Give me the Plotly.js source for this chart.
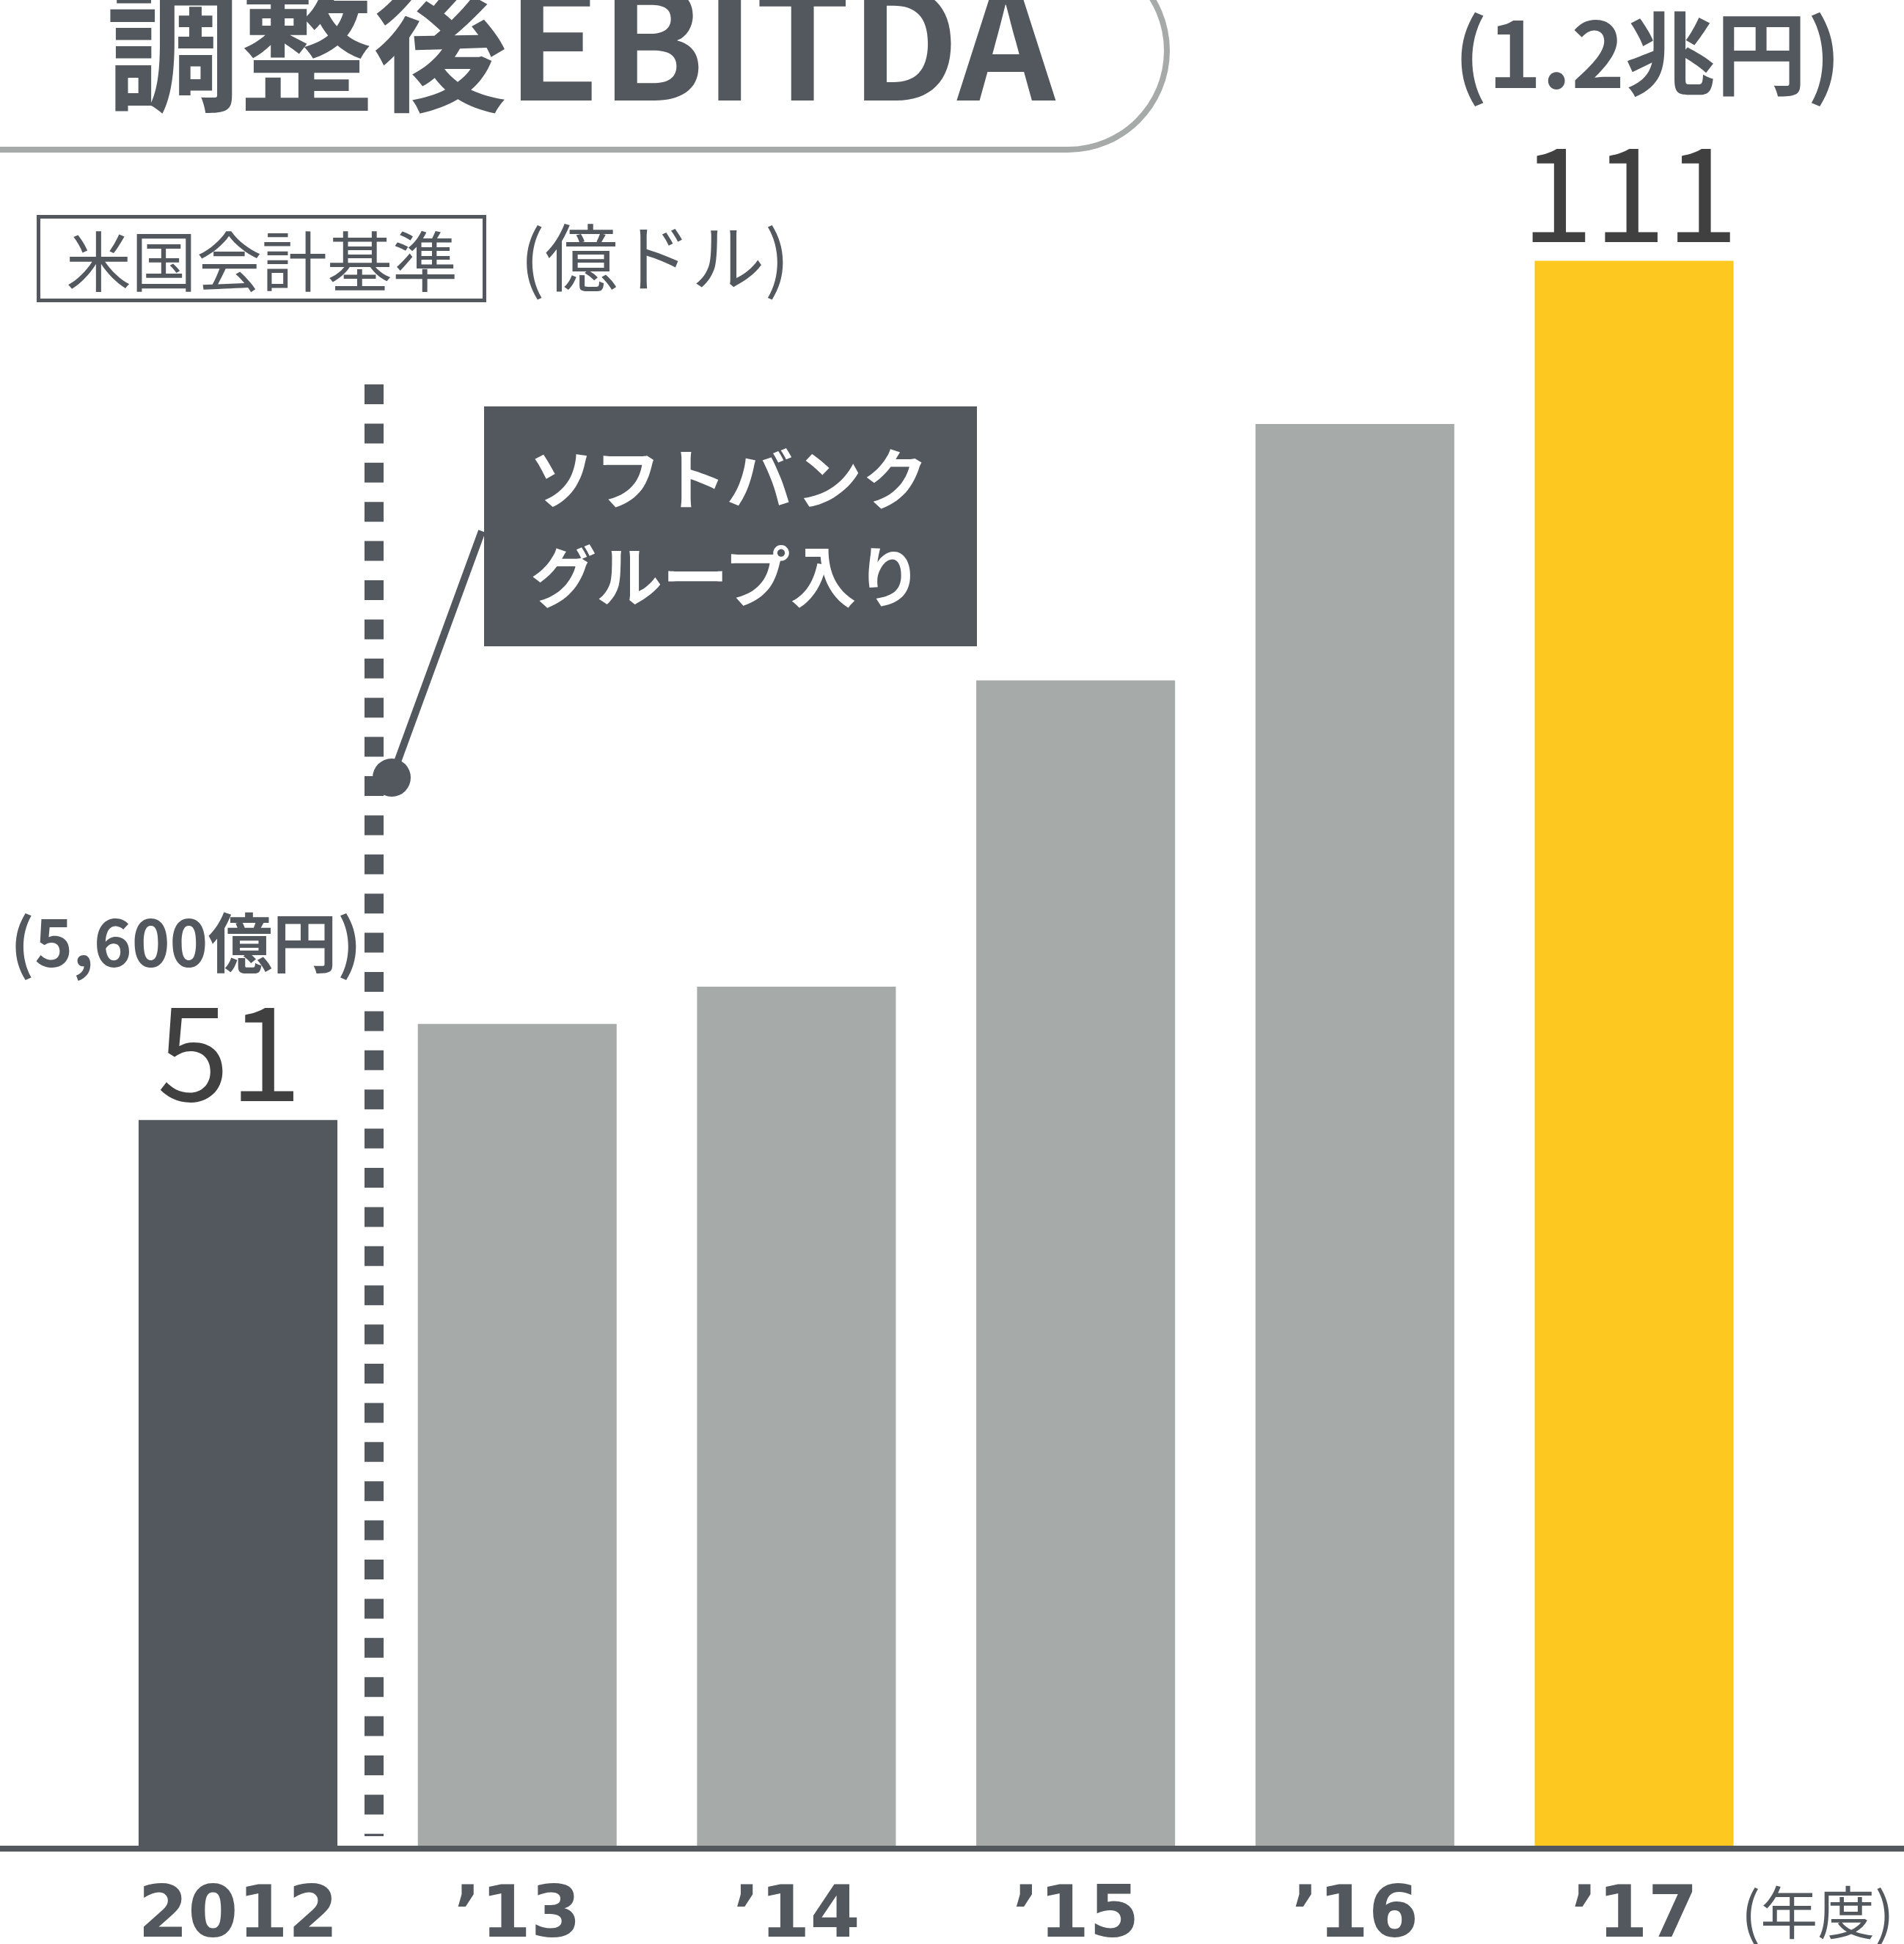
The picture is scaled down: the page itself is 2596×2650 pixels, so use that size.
<!DOCTYPE html>
<html>
<head>
<meta charset="utf-8">
<script src="https://cdn.plot.ly/plotly-3.0.1.min.js"></script>
<style>
  html, body { margin: 0; padding: 0; background: #ffffff; }
  #chart { width: 2596px; height: 2650px; }
</style>
</head>
<body>
<div id="chart"></div>
<script>
// ---- data ----
const categories = ["2012", "2013", "2014", "2015", "2016", "2017"];
const tickLabels = ["2012", "’13", "’14", "’15", "’16", "’17"];
const ebitda = [51, 57.7, 60.3, 81.7, 99.6, 111];           // 億ドル
const barColors = ["#53585f", "#a6aaa9", "#a6aaa9", "#a6aaa9", "#a6aaa9", "#fdc81f"];
const yenNotes = ["(5,600億円)", "(1.2兆円)"];
const titleKanji = "調整後";
const titleLatin = "EBITDA";
const standardText = "米国会計基準";
const unitText = "(億ドル)";
const calloutLines = ["ソフトバンク", "グループ入り"];
const fiscalYearText = "(年度)";

// ---- geometry helpers (pixel -> paper) ----
const W = 2596, H = 2650, MB = 128, PH = H - MB;
const xp = px => px / W;
const yp = py => (PH - py) / PH;
const DARK = "#53585f", GREY = "#a6aaa9", FONT = "Noto Sans CJK JP";

const trace = {
  type: "bar",
  x: categories.map((c, i) => i),
  y: ebitda,
  width: 0.712,
  marker: { color: barColors, line: { width: 0 } },
  hoverinfo: "skip"
};

function pathStr(parts) {
  let s = "";
  for (const p of parts) {
    if (typeof p === "string") s += p;
    else s += p[0].toFixed(6) + "," + p[1].toFixed(6) + " ";
  }
  return s.trim();
}
// rounded tab under title
const cx = 1456, cy = 69, r = 135, k = 0.5523 * r;
const tab = pathStr([
  "M", [xp(-20), yp(cy + r)],
  "L", [xp(cx), yp(cy + r)],
  "C", [xp(cx + k), yp(cy + r)], [xp(cx + r), yp(cy + k)], [xp(cx + r), yp(cy)],
  "C", [xp(cx + r), yp(cy - k)], [xp(cx + k), yp(cy - r)], [xp(cx), yp(cy - r)]
]);

const shapes = [
  { type: "path", xref: "paper", yref: "paper", path: tab,
    line: { color: GREY, width: 8 }, fillcolor: "rgba(0,0,0,0)" },
  { type: "rect", xref: "paper", yref: "paper",
    x0: xp(52.5), x1: xp(660.5), y0: yp(295.5), y1: yp(409.5),
    line: { color: DARK, width: 5 }, fillcolor: "rgba(0,0,0,0)" },
  { type: "rect", xref: "paper", yref: "paper",
    x0: xp(660), x1: xp(1332), y0: yp(554), y1: yp(881),
    line: { width: 0 }, fillcolor: DARK },
  { type: "line", xref: "paper", yref: "paper",
    x0: xp(657), y0: yp(724), x1: xp(534), y1: yp(1060),
    line: { color: DARK, width: 10 } },
  { type: "circle", xref: "paper", yref: "paper",
    x0: xp(508), x1: xp(560), y0: yp(1034), y1: yp(1086),
    line: { width: 0 }, fillcolor: DARK },
  { type: "line", xref: "paper", yref: "paper",
    x0: xp(510), x1: xp(510), y0: yp(524), y1: yp(2503),
    line: { color: DARK, width: 26, dash: "27px,26.4px" } },
  { type: "line", xref: "paper", yref: "paper",
    x0: 0, x1: 1, y0: yp(2520), y1: yp(2520),
    line: { color: DARK, width: 8 } }
];

const annotations = [
  { xref: "paper", yref: "paper", x: xp(793), y: yp(46), xanchor: "center", yanchor: "middle",
    text: '<span style="font-size:182px">' + titleKanji + '</span>' + titleLatin, showarrow: false,
    font: { family: FONT, size: 208, color: DARK, weight: 700 } },
  { xref: "paper", yref: "paper", x: xp(357), y: yp(352), xanchor: "center", yanchor: "middle",
    text: standardText, showarrow: false,
    font: { family: FONT, size: 89, color: DARK, weight: 400 } },
  { xref: "paper", yref: "paper", x: xp(893), y: yp(346), xanchor: "center", yanchor: "middle",
    text: unitText, showarrow: false,
    font: { family: FONT, size: 100, color: DARK, weight: 400 } },
  { xref: "paper", yref: "paper", x: xp(993), y: yp(648), xanchor: "center", yanchor: "middle",
    text: calloutLines[0], showarrow: false,
    font: { family: FONT, size: 90, color: "#ffffff", weight: 700 } },
  { xref: "paper", yref: "paper", x: xp(990), y: yp(781), xanchor: "center", yanchor: "middle",
    text: calloutLines[1], showarrow: false,
    font: { family: FONT, size: 90, color: "#ffffff", weight: 700 } },
  { xref: "paper", yref: "paper", x: xp(253), y: yp(1279), xanchor: "center", yanchor: "middle",
    text: yenNotes[0], showarrow: false,
    font: { family: FONT, size: 88, color: DARK, weight: 700 } },
  { xref: "paper", yref: "paper", x: xp(2246), y: yp(66), xanchor: "center", yanchor: "middle",
    text: yenNotes[1], showarrow: false,
    font: { family: FONT, size: 124, color: DARK, weight: 700 } },
  { xref: "x", yref: "y", x: 0, y: ebitda[0], xanchor: "center", yanchor: "bottom",
    xshift: -12, yshift: -27, text: String(ebitda[0]), showarrow: false,
    font: { family: FONT, size: 178, color: "#404040", weight: 400 } },
  { xref: "x", yref: "y", x: 5, y: ebitda[5], xanchor: "center", yanchor: "bottom",
    xshift: -6, yshift: -27, text: String(ebitda[5]), showarrow: false,
    font: { family: FONT, size: 178, color: "#404040", weight: 400 } },
  { xref: "paper", yref: "paper", x: xp(2478), y: yp(2603), xanchor: "center", yanchor: "middle",
    text: fiscalYearText, showarrow: false,
    font: { family: FONT, size: 78, color: DARK, weight: 400 } }
];

const layout = {
  width: W, height: H,
  margin: { l: 0, r: 0, t: 0, b: MB, pad: 0 },
  paper_bgcolor: "#ffffff", plot_bgcolor: "#ffffff",
  showlegend: false, hovermode: false,
  font: { family: FONT, color: DARK },
  xaxis: {
    type: "linear", range: [-0.8524, 5.9666], fixedrange: true,
    tickmode: "array", tickvals: categories.map((c, i) => i), ticktext: tickLabels,
    showgrid: false, zeroline: false, showline: false, ticks: "",
    ticklabelstandoff: 19,
    tickfont: { family: "DejaVu Sans", size: 98, color: DARK, weight: 700 }
  },
  yaxis: {
    range: [0, PH / 19.517], fixedrange: true,
    showgrid: false, zeroline: false, showline: false, showticklabels: false, ticks: ""
  },
  shapes: shapes,
  annotations: annotations
};

Plotly.newPlot("chart", [trace], layout, { displayModeBar: false, staticPlot: true });
</script>
</body>
</html>
